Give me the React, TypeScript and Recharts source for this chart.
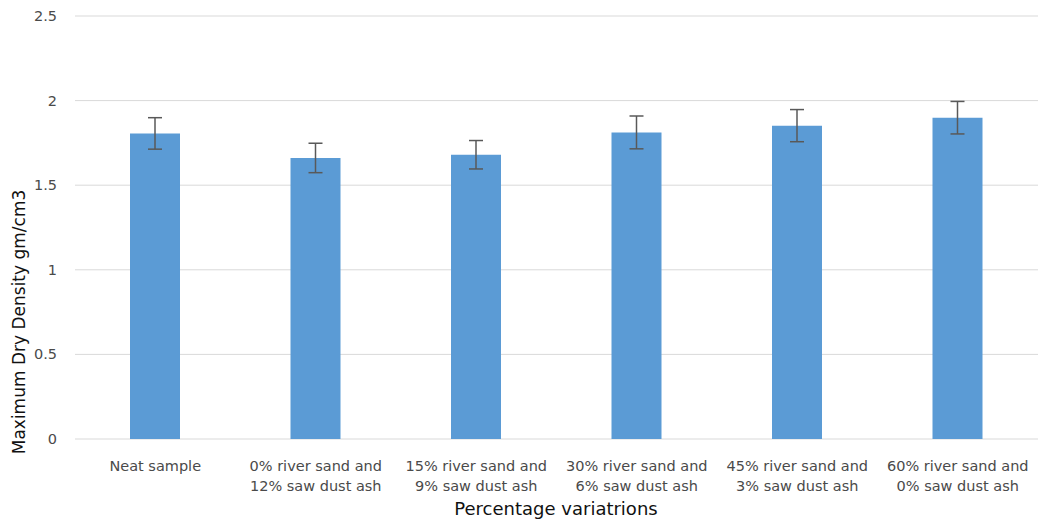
import { BarChart, Bar, XAxis, YAxis, CartesianGrid, ErrorBar, Label } from 'recharts';

const categories = [
  'Neat sample',
  '0% river sand and|12% saw dust ash',
  '15% river sand and|9% saw dust ash',
  '30% river sand and|6% saw dust ash',
  '45% river sand and|3% saw dust ash',
  '60% river sand and|0% saw dust ash',
];
const density = [1.806, 1.661, 1.68, 1.812, 1.852, 1.899];
const errors = [0.093, 0.087, 0.084, 0.097, 0.095, 0.096];
const yTicks = [0, 0.5, 1, 1.5, 2, 2.5];

const data = categories.map((name, i) => ({ name, density: density[i], err: errors[i] }));

const FONT = '"DejaVu Sans", Verdana, sans-serif';
const TEXT = '#4a4a4a';

function XTick(props: any) {
  const { x, y, payload } = props;
  const lines = String(payload.value).split('|');
  return (
    <text x={x} y={y} textAnchor="middle" fill={TEXT} fontSize={14.5} fontFamily={FONT}>
      {lines.map((l, i) => (
        <tspan key={i} x={x} dy={i === 0 ? 24 : 20}>{l}</tspan>
      ))}
    </text>
  );
}

function YTick(props: any) {
  const { y, payload } = props;
  return (
    <text x={57} y={y} dy={5} textAnchor="end" fill={TEXT} fontSize={14.5} fontFamily={FONT}>
      {payload.value}
    </text>
  );
}

export default function App() {
  return (
    <div style={{ position: 'fixed', left: 0, top: 0, width: 1041, height: 523, background: '#fff' }}>
      <BarChart width={1041} height={523} data={data} margin={{ top: 16, right: 3, left: 0, bottom: 0 }}>
        <CartesianGrid vertical={false} stroke="#D9D9D9" />
        <XAxis dataKey="name" height={84} axisLine={false} tickLine={false} tick={<XTick />} interval={0}>
          <Label
            content={() => (
              <text x={556} y={515} textAnchor="middle" fill="#111" fontSize={18} fontFamily={FONT}>
                Percentage variatrions
              </text>
            )}
          />
        </XAxis>
        <YAxis width={75} domain={[0, 2.5]} ticks={yTicks} axisLine={false} tickLine={false} tick={<YTick />}>
          <Label
            content={() => (
              <text x={0} y={0} transform="translate(25,322) rotate(-90)" textAnchor="middle" fill="#111" fontSize={17} fontFamily={FONT}>
                Maximum Dry Density gm/cm3
              </text>
            )}
          />
        </YAxis>
        <Bar dataKey="density" fill="#5B9BD5" barSize={50} isAnimationActive={false}>
          <ErrorBar dataKey="err" width={7} stroke="#595959" strokeWidth={1.5} direction="y" />
        </Bar>
      </BarChart>
    </div>
  );
}
